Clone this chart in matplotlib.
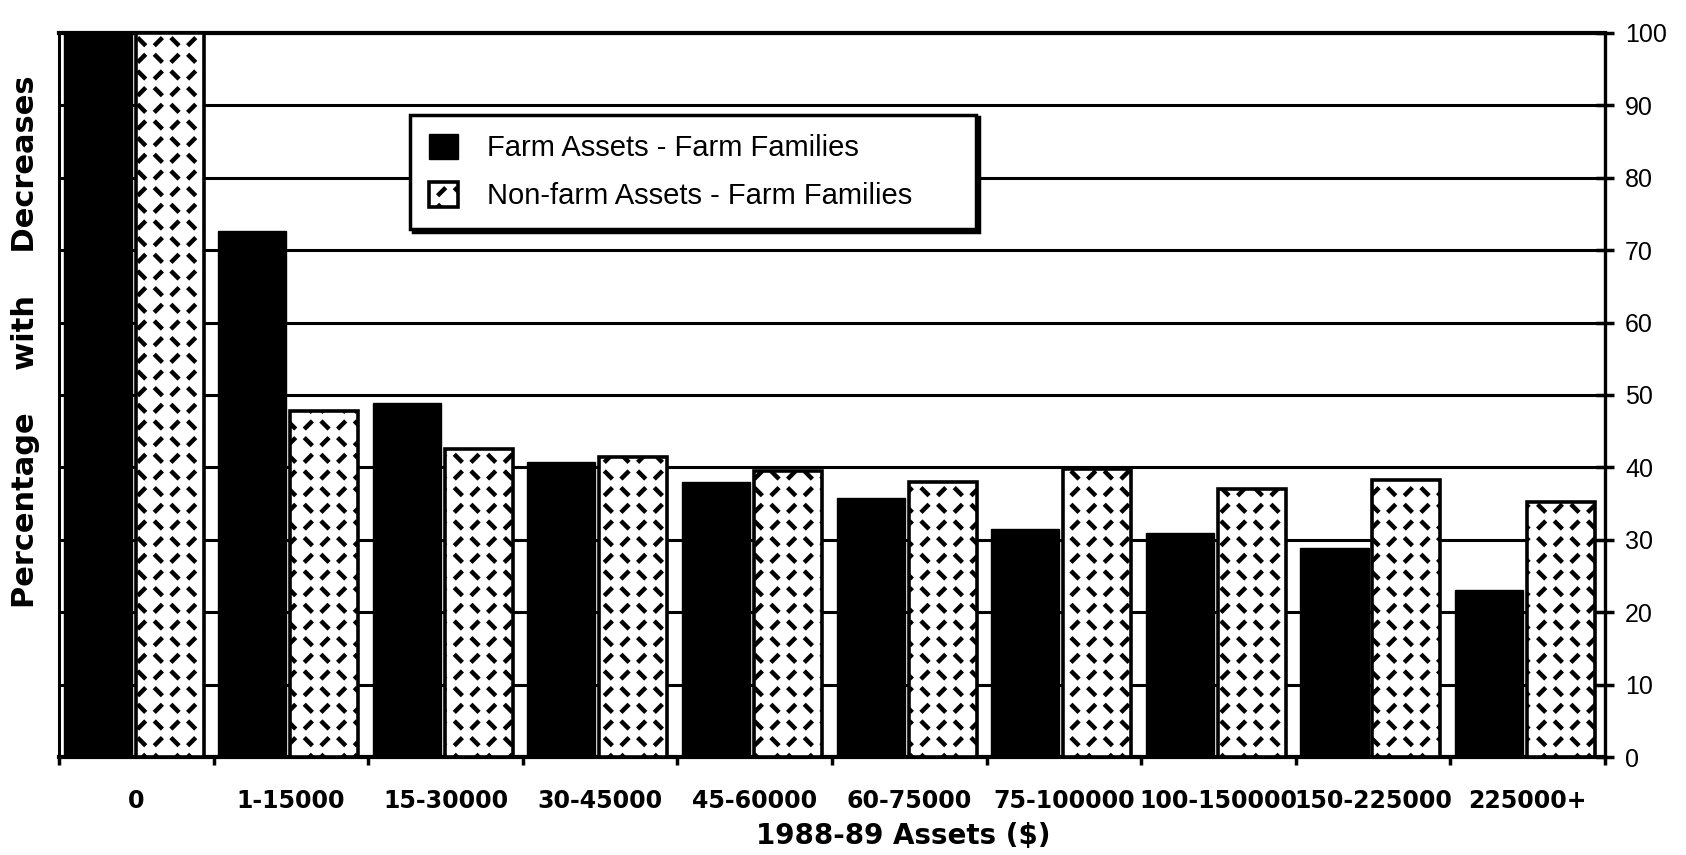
import numpy as np
import matplotlib
matplotlib.use("Agg")
import matplotlib.pyplot as plt
import matplotlib.hatch as mhatch
from matplotlib.path import Path

# ---------------- data ----------------
categories = ["0", "1-15000", "15-30000", "30-45000", "45-60000", "60-75000",
              "75-100000", "100-150000", "150-225000", "225000+"]
farm_assets = [100, 72.6, 48.9, 40.8, 38.0, 35.7, 31.5, 31.0, 28.8, 23.0]
nonfarm_assets = [100, 47.8, 42.6, 41.4, 39.5, 38.0, 39.8, 37.0, 38.3, 35.2]
series_labels = ["Farm Assets - Farm Families", "Non-farm Assets - Farm Families"]
y_ticks = [0, 10, 20, 30, 40, 50, 60, 70, 80, 90, 100]
x_label = "1988-89 Assets ($)"
y_label = "Percentage    with    Decreases"


# ---------------- custom dash hatch (short diagonal dashes, zig-zag) ----------------
class DashHatch(mhatch.HatchPatternBase):
    def __init__(self, hatch, density):
        self.n = int(hatch.count("*") * density)
        self.num_vertices = self.n * self.n * 2

    def set_vertices_and_codes(self, vertices, codes):
        n = self.n
        c = 1.0 / n
        h = 0.15 * c
        k = 0
        for i in range(n):
            for j in range(n):
                cx = (i + 0.5) * c
                cy = (j + 0.5) * c
                s = 1 if (i + j) % 2 == 0 else -1
                vertices[k] = (cx - h, cy - s * h)
                vertices[k + 1] = (cx + h, cy + s * h)
                codes[k] = Path.MOVETO
                codes[k + 1] = Path.LINETO
                k += 2


mhatch._hatch_types = [t for t in mhatch._hatch_types if t is not mhatch.Stars] + [DashHatch]

plt.rcParams["hatch.linewidth"] = 3.2
plt.rcParams["hatch.color"] = "black"

# ---------------- figure ----------------
fig = plt.figure(figsize=(16.86, 8.55), dpi=100)
ax = fig.add_axes([0.035, 0.1146, 0.917, 0.847])

x = np.arange(len(categories))
bar_w = 0.44
ax.bar(x + 0.25, farm_assets, width=bar_w, color="black", edgecolor="black",
       linewidth=1.0, zorder=3, label=series_labels[0])
ax.bar(x + 0.715, nonfarm_assets, width=bar_w, facecolor="white", edgecolor="black",
       hatch="*", linewidth=2.6, zorder=3, label=series_labels[1])

ax.set_xlim(0, len(categories))
ax.set_ylim(0, 100)

# x ticks at category boundaries, labels centered
ax.set_xticks(np.arange(len(categories) + 1))
ax.set_xticklabels([])
ax.set_xticks(x + 0.5, minor=True)
ax.set_xticklabels(categories, minor=True, fontsize=17, fontweight="bold",
                   family="DejaVu Sans")
ax.tick_params(axis="x", which="minor", length=0, pad=23)
ax.tick_params(axis="x", which="major", direction="out", length=6, width=2.5)

# y axis on the right
ax.yaxis.tick_right()
ax.set_yticks(y_ticks)
ax.set_yticklabels([str(v) for v in y_ticks], fontsize=18, family="Liberation Sans")
ax.tick_params(axis="y", direction="inout", length=13, width=2.5, pad=8)

ax.grid(axis="y", color="black", linewidth=2.2, zorder=0)
ax.set_axisbelow(True)

for side, lw in (("top", 3.0), ("bottom", 3.0), ("left", 2.2), ("right", 2.4)):
    ax.spines[side].set_linewidth(lw)
    ax.spines[side].set_color("black")

leg = ax.legend(loc="upper left", bbox_to_anchor=(0.227, 0.887, 0.366, 0.0),
                mode="expand", borderaxespad=0,
                prop={"family": "Liberation Sans", "size": 21},
                frameon=True, fancybox=False, edgecolor="black",
                handlelength=1.0, handleheight=0.95, handletextpad=1.0,
                labelspacing=0.67, borderpad=0.65,
                shadow={"color": "black", "alpha": 1})
leg.get_frame().set_linewidth(2.5)
leg.get_frame().set_alpha(1)
leg.set_zorder(5)

fig.text(0.536, 0.022, x_label, ha="center", va="center", fontsize=20,
         fontweight="bold", family="DejaVu Sans")
fig.text(0.0154, 0.60, y_label, ha="center", va="center", rotation=90,
         fontsize=22, fontweight="bold", family="DejaVu Sans")

fig.savefig("out.png", dpi=100, facecolor="white")
